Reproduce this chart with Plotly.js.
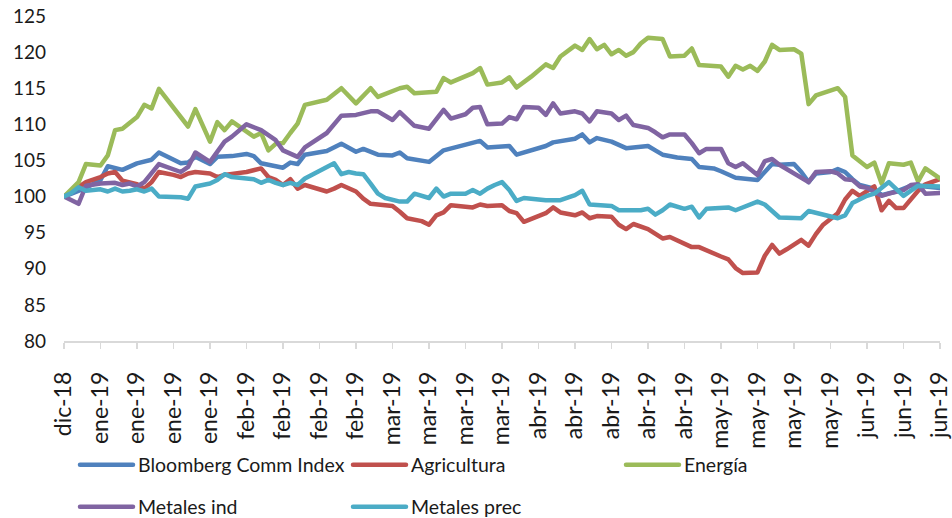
<!DOCTYPE html>
<html><head><meta charset="utf-8">
<script src="https://cdn.plot.ly/plotly-3.0.1.min.js"></script>
<style>
html,body{margin:0;padding:0;background:#fff}
#chart{width:952px;height:518px}
path.js-line{stroke-linejoin:round;stroke-linecap:round}
</style>
</head><body><div id="chart"></div>
<script>
// x-axis labels (one label every 5 business days)
const tickLabels = ["dic-18","ene-19","ene-19","ene-19","ene-19","feb-19","feb-19","feb-19","feb-19","mar-19","mar-19","mar-19","mar-19","abr-19","abr-19","abr-19","abr-19","abr-19","may-19","may-19","may-19","may-19","jun-19","jun-19","jun-19"];
const daysPerTick = 5;

// Bloomberg Comm Index (business-day index, value)
const bloombergDays = [0,3,5,6,8,10,12,13,16,17,18,20,21,23,25,26,27,30,31,32,33,36,38,39,40,41,43,45,46,47,50,52,54,55,57,58,61,62,64,66,67,69,70,71,72,73,75,77,79,80,81,82,84,86,87,89,90,91,92,95,96,97,98,100,101,102,103,105,106,107,108,109,111,112,114,116,117,120];
const bloombergVals = [100.0,101.2,102.3,104.2,103.7,104.6,105.1,106.1,104.6,104.7,105.5,104.5,105.5,105.6,105.9,105.6,104.6,104.0,104.7,104.5,105.8,106.3,107.3,106.8,106.2,106.6,105.8,105.7,106.1,105.3,104.8,106.4,106.9,107.1,107.7,106.8,107.0,105.8,106.4,107.0,107.5,107.8,108.0,108.6,107.5,108.1,107.6,106.7,106.9,107.0,106.4,105.8,105.4,105.2,104.1,103.9,103.5,103.1,102.6,102.3,103.4,104.5,104.4,104.5,103.4,102.0,103.2,103.4,103.8,103.4,102.4,101.6,101.1,100.2,100.7,101.5,101.5,101.2];

// Agricultura
const agriDays = [0,3,5,6,7,8,10,11,12,13,15,16,17,18,20,21,22,25,27,28,29,30,31,32,33,36,37,38,40,41,42,43,45,46,47,49,50,51,52,53,55,56,57,58,60,61,62,63,66,67,68,70,71,72,73,75,76,77,78,80,82,83,86,87,90,91,92,93,95,96,97,98,99,101,102,103,104,106,107,108,109,111,112,113,114,115,117,118,120];
const agriVals = [100.0,102.0,102.7,103.2,103.4,102.2,101.7,101.1,102.0,103.4,103.0,102.7,103.2,103.4,103.2,102.7,103.0,103.4,103.9,102.7,102.3,101.6,102.4,101.1,101.6,100.7,101.1,101.6,100.7,99.7,99.0,98.9,98.7,97.9,97.0,96.6,96.1,97.4,97.8,98.8,98.6,98.5,98.9,98.7,98.8,98.0,97.7,96.5,97.7,98.5,97.8,97.4,97.8,97.0,97.3,97.2,96.1,95.5,96.2,95.5,94.2,94.4,93.0,93.0,91.7,91.3,90.1,89.4,89.5,91.8,93.3,92.1,92.7,94.0,93.2,94.8,96.1,97.7,99.6,100.8,100.1,101.4,98.1,99.4,98.4,98.4,100.8,101.7,102.4];

// Energía
const energiaDays = [0,1,2,3,5,6,7,8,10,11,12,13,15,17,18,20,21,22,23,24,26,27,28,29,30,31,32,33,36,38,40,42,43,46,47,48,51,52,53,56,57,58,60,61,62,64,66,67,68,70,71,72,73,74,75,76,77,78,79,80,81,82,83,85,86,87,90,91,92,93,94,95,96,97,98,100,101,102,103,106,107,108,110,111,112,113,115,116,117,118,120];
const energiaVals = [100.0,101.0,102.0,104.5,104.3,105.7,109.2,109.4,111.0,112.7,112.2,114.9,112.2,109.7,112.1,107.6,110.3,109.2,110.4,109.7,108.3,108.8,106.4,107.3,107.4,108.8,110.1,112.7,113.4,115.0,112.9,115.0,113.8,115.0,115.2,114.3,114.5,116.4,115.8,117.1,117.8,115.5,115.8,116.5,115.1,116.6,118.3,117.8,119.4,120.9,120.3,121.8,120.4,121.0,119.7,120.3,119.5,120.0,121.2,122.0,121.9,121.8,119.4,119.5,120.5,118.2,118.0,116.6,118.1,117.6,118.1,117.4,118.7,121.0,120.3,120.4,119.8,112.8,114.0,115.0,113.8,105.7,104.1,104.7,101.8,104.6,104.4,104.7,102.1,103.9,102.5];

// Metales ind
const metIndDays = [0,2,3,5,7,8,9,10,11,12,13,16,17,18,20,22,23,25,27,29,30,32,33,36,37,38,40,42,43,45,46,47,48,50,52,53,55,56,57,58,60,61,62,63,65,66,67,68,70,71,72,73,75,76,77,78,79,80,81,82,83,85,86,87,88,90,91,92,93,95,96,97,98,99,101,102,103,105,106,107,108,109,110,111,112,113,115,116,117,118,120];
const metIndVals = [100.0,99.0,101.5,101.8,101.9,101.6,101.8,101.4,102.0,103.2,104.5,103.4,104.1,106.1,104.8,107.6,108.3,110.0,109.2,107.8,106.4,105.5,106.8,108.8,109.9,111.2,111.3,111.8,111.8,110.6,111.7,110.8,109.8,109.4,112.0,110.8,111.4,112.3,112.4,110.0,110.1,111.0,110.7,112.4,112.3,111.3,112.9,111.5,111.8,111.5,110.4,111.8,111.5,110.6,111.2,109.9,109.7,109.5,108.9,108.2,108.6,108.6,107.4,106.0,106.6,106.6,104.6,104.1,104.6,103.0,104.9,105.2,104.4,103.8,102.7,102.0,103.4,103.5,103.2,102.4,102.3,101.4,101.2,100.7,100.1,100.4,100.9,101.6,101.7,100.4,100.5];

// Metales prec
const metPrecDays = [0,1,2,3,5,6,7,8,9,10,11,12,13,16,17,18,20,21,22,23,25,26,27,28,29,30,31,32,33,37,38,39,40,41,42,43,44,45,46,47,48,50,51,52,53,55,56,57,58,59,60,61,62,63,66,68,70,71,72,75,76,79,80,81,82,83,85,86,87,88,91,92,93,95,96,98,101,102,106,107,108,110,111,113,115,117,120];
const metPrecVals = [100.0,100.5,101.3,100.8,101.0,100.7,101.1,100.7,100.8,101.0,100.7,101.1,100.0,99.9,99.7,101.4,101.8,102.3,103.1,102.7,102.5,102.4,101.9,102.3,101.9,101.6,101.9,101.6,102.5,104.6,103.1,103.4,103.2,103.1,101.8,100.4,99.8,99.5,99.3,99.3,100.4,99.8,101.1,100.0,100.4,100.4,100.9,100.4,101.1,101.6,102.0,100.9,99.4,99.8,99.5,99.5,100.2,100.8,98.9,98.7,98.1,98.1,98.3,97.5,98.1,98.9,98.3,98.6,97.1,98.3,98.5,98.1,98.5,99.3,98.9,97.1,97.0,98.0,97.0,97.4,99.1,100.1,100.4,102.0,100.1,101.5,101.4];

const FONT = 'Lato, "Liberation Sans", sans-serif';
const tickPositions = tickLabels.map((_, i) => i * daysPerTick);

function series(name, days, vals, color, legendId) {
  return {type: 'scatter', mode: 'lines', name: name, x: days, y: vals,
    line: {color: color, width: 4.5}, legend: legendId};
}

const data = [
  series('Bloomberg Comm Index', bloombergDays, bloombergVals, '#4F81BD', 'legend'),
  series('Agricultura', agriDays, agriVals, '#C0504D', 'legend'),
  series('Energía', energiaDays, energiaVals, '#9BBB59', 'legend'),
  series('Metales ind', metIndDays, metIndVals, '#8064A2', 'legend2'),
  series('Metales prec', metPrecDays, metPrecVals, '#4BACC6', 'legend2')
];

const legendBase = {orientation: 'h', xref: 'container', yref: 'container',
  xanchor: 'left', yanchor: 'middle', itemwidth: 53, entrywidth: 205, bgcolor: 'rgba(0,0,0,0)',
  font: {family: FONT, size: 19.5, color: '#1a1a1a'}};

const layout = {
  width: 952, height: 518,
  margin: {l: 64, r: 12, t: 16, b: 177},
  paper_bgcolor: '#ffffff', plot_bgcolor: '#ffffff',
  font: {family: FONT, size: 19, color: '#1a1a1a'},
  showlegend: true,
  xaxis: {type: 'linear', range: [0, 120], tickmode: 'array', tickvals: tickPositions, ticktext: tickLabels,
    tickangle: -90, showgrid: false, zeroline: false, showline: true, linecolor: '#D9D9D9', linewidth: 1.5,
    ticks: 'outside', ticklen: 6, tickcolor: '#D9D9D9', tickwidth: 1.5, ticklabeloverflow: 'allow',
    ticklabelstandoff: 14,
    tickfont: {family: FONT, size: 23, color: '#1a1a1a'}},
  yaxis: {range: [80, 125], tickmode: 'linear', tick0: 80, dtick: 5, showgrid: false, zeroline: false,
    showline: false, ticks: '', ticklabelstandoff: 17,
    tickfont: {family: FONT, size: 19, color: '#1a1a1a'}},
  legend: Object.assign({}, legendBase, {x: 75 / 952, y: 1 - 465 / 518}),
  legend2: Object.assign({}, legendBase, {x: 75 / 952, y: 1 - 507 / 518})
};

Plotly.newPlot('chart', data, layout, {displayModeBar: false, staticPlot: true});
</script>
</body></html>
